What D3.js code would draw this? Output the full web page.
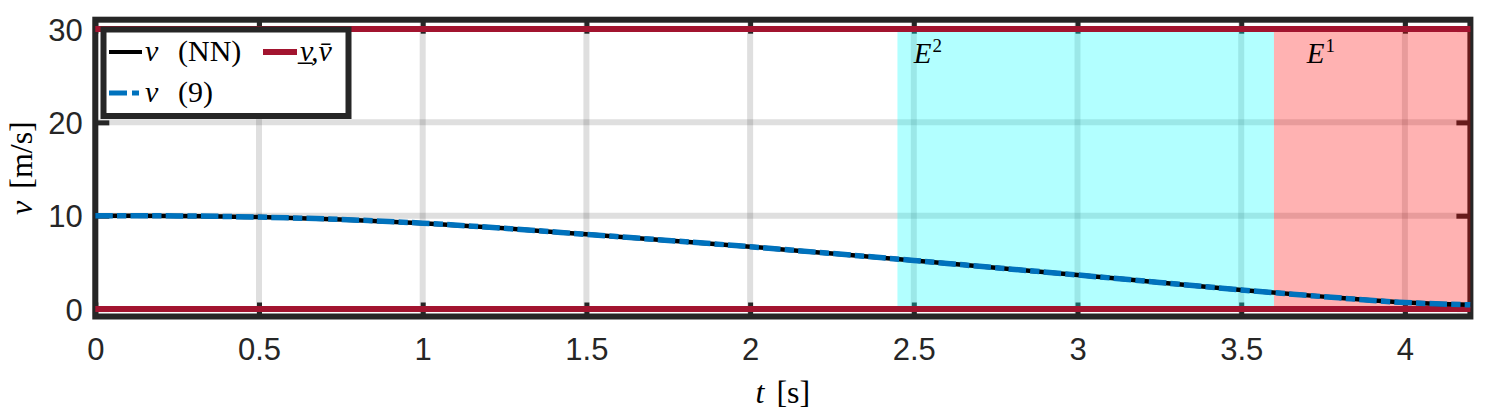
<!DOCTYPE html>
<html><head><meta charset="utf-8">
<script src="https://cdn.jsdelivr.net/npm/d3@7"></script>
<style>body{margin:0;background:#fff}svg{display:block}</style>
</head><body>
<svg id="chart" width="1495" height="414"></svg>
<script>
// ---- data ----
const tValues = [0, 0.25, 0.5, 0.75, 1.0, 1.25, 1.5, 1.75, 2.0, 2.25, 2.5, 2.75, 3.0, 3.25, 3.5, 3.75, 4.0, 4.2];
const vNN     = [10.0, 9.98, 9.85, 9.6, 9.2, 8.65, 8.0, 7.35, 6.68, 5.95, 5.2, 4.42, 3.65, 2.85, 2.05, 1.33, 0.7, 0.45];
const v9      = [10.0, 9.98, 9.85, 9.6, 9.2, 8.65, 8.0, 7.35, 6.68, 5.95, 5.2, 4.42, 3.65, 2.85, 2.05, 1.33, 0.7, 0.45];
const vLower = 0;
const vUpper = 30;
const regionNames = ["E", "E"];
const regionSup   = ["2", "1"];
const regionStart = [2.45, 3.6];
const regionEnd   = [3.6, 4.2];
const regionColor = ["#00ffff", "#ff0000"];
const regionLabelT = [2.5, 3.7];
const regionLabelV = [26.4, 26.4];
const xTicks = [0, 0.5, 1, 1.5, 2, 2.5, 3, 3.5, 4];
const xTickLabels = ["0", "0.5", "1", "1.5", "2", "2.5", "3", "3.5", "4"];
const yTicks = [0, 10, 20, 30];
const yTickLabels = ["0", "10", "20", "30"];

// ---- setup ----
const svg = d3.select("#chart");
const x = d3.scaleLinear().domain([0, 4.2]).range([95.3, 1470.4]);
const y = d3.scaleLinear().domain([-0.8, 31]).range([316.5, 19.7]);
const [x0, x1] = x.range();
const [yb, yt] = y.range();
const dark = "#262626";
const gridCol = "rgba(38,38,38,0.15)";
const sansFont = "'Liberation Sans', Arial, Helvetica, sans-serif";
const serifFont = "'Liberation Serif', 'Times New Roman', serif";

// grid
const grid = svg.append("g");
grid.selectAll(".gx").data(xTicks).join("line")
  .attr("x1", d => x(d)).attr("x2", d => x(d)).attr("y1", yt).attr("y2", yb)
  .attr("stroke", gridCol).attr("stroke-width", 6);
grid.selectAll(".gy").data(yTicks).join("line")
  .attr("x1", x0).attr("x2", x1).attr("y1", d => y(d)).attr("y2", d => y(d))
  .attr("stroke", gridCol).attr("stroke-width", 6);

// frame
svg.append("rect").attr("x", x0).attr("y", yt).attr("width", x1 - x0).attr("height", yb - yt)
  .attr("fill", "none").attr("stroke", dark).attr("stroke-width", 6);

// axes (ticks inward)
function styleAxis(g) {
  g.select(".domain").remove();
  g.selectAll(".tick line").attr("stroke", dark).attr("stroke-width", 5);
  g.selectAll(".tick text").attr("fill", dark).attr("font-family", sansFont).attr("font-size", 31);
}
const gBottom = svg.append("g").attr("transform", `translate(0,${yb})`)
  .call(d3.axisBottom(x).tickValues(xTicks).tickFormat((d, i) => xTickLabels[i]).tickSize(-14))
  .call(styleAxis);
gBottom.selectAll(".tick text").attr("y", 43.5).attr("dy", null);
svg.append("g").attr("transform", `translate(0,${yt})`)
  .call(d3.axisTop(x).tickValues(xTicks).tickFormat("").tickSize(-14)).call(styleAxis);
const gLeft = svg.append("g").attr("transform", `translate(${x0},0)`)
  .call(d3.axisLeft(y).tickValues(yTicks).tickFormat((d, i) => yTickLabels[i]).tickSize(-14))
  .call(styleAxis);
gLeft.selectAll(".tick text").attr("x", -12.5).attr("dy", 11);
svg.append("g").attr("transform", `translate(${x1},0)`)
  .call(d3.axisRight(y).tickValues(yTicks).tickFormat("").tickSize(-14)).call(styleAxis);

// shaded regions
svg.append("g").selectAll("rect").data(regionStart).join("rect")
  .attr("x", (d) => x(d)).attr("width", (d, i) => x(regionEnd[i]) - x(d))
  .attr("y", y(vUpper)).attr("height", y(vLower) - y(vUpper))
  .attr("fill", (d, i) => regionColor[i]).attr("fill-opacity", 0.3);

// bounds
const boundCol = "#a2142f";
svg.append("g").selectAll("line").data([vLower, vUpper]).join("line")
  .attr("x1", x(0)).attr("x2", x(4.2)).attr("y1", d => y(d)).attr("y2", d => y(d))
  .attr("stroke", boundCol).attr("stroke-width", 6);

// curves
const line = d3.line().x(d => x(d[0])).y(d => y(d[1])).curve(d3.curveMonotoneX);
svg.append("path").datum(tValues.map((t, i) => [t, vNN[i]]))
  .attr("d", line).attr("fill", "none").attr("stroke", "#000").attr("stroke-width", 4.5);
svg.append("path").datum(tValues.map((t, i) => [t, v9[i]]))
  .attr("d", line).attr("fill", "none").attr("stroke", "#0072bd").attr("stroke-width", 5.5)
  .attr("stroke-dasharray", "17.5,4.2,9.3,4.2");

// region labels
regionNames.forEach((n, i) => {
  const t = svg.append("text").attr("x", x(regionLabelT[i])).attr("y", y(regionLabelV[i]))
    .attr("font-family", serifFont).attr("font-size", 29).attr("fill", "#000");
  t.append("tspan").attr("font-style", "italic").text(n);
  t.append("tspan").attr("font-size", 19).attr("dy", -11).attr("dx", 1).text(regionSup[i]);
});

// legend
const lg = svg.append("g");
lg.append("rect").attr("x", 103.5).attr("y", 29.5).attr("width", 245).attr("height", 86.5)
  .attr("fill", "#fff").attr("stroke", dark).attr("stroke-width", 6);
lg.append("line").attr("x1", 109).attr("x2", 142).attr("y1", 52).attr("y2", 52)
  .attr("stroke", "#000").attr("stroke-width", 4);
lg.append("line").attr("x1", 263).attr("x2", 297).attr("y1", 52).attr("y2", 52)
  .attr("stroke", boundCol).attr("stroke-width", 6);
lg.append("line").attr("x1", 109).attr("x2", 139).attr("y1", 93).attr("y2", 93)
  .attr("stroke", "#0072bd").attr("stroke-width", 5).attr("stroke-dasharray", "18,5,10,5");
function legText(xv, yv, it, rest, restX) {
  lg.append("text").attr("x", xv).attr("y", yv).attr("font-family", serifFont).attr("font-size", 30)
    .attr("font-style", "italic").text(it);
  lg.append("text").attr("x", restX).attr("y", yv).attr("font-family", serifFont).attr("font-size", 30)
    .text(rest);
}
legText(145, 61, "v", "(NN)", 178);
legText(145, 102, "v", "(9)", 178);
lg.append("text").attr("x", 300).attr("y", 61).attr("font-family", serifFont).attr("font-size", 30)
  .attr("font-style", "italic").text("v\u0332,v\u0304");

// axis labels
const xl = svg.append("text").attr("x", (x0 + x1) / 2).attr("y", 403).attr("text-anchor", "middle")
  .attr("font-family", serifFont).attr("font-size", 32).attr("fill", "#000");
xl.append("tspan").attr("font-style", "italic").text("t");
xl.append("tspan").attr("dx", 12).text("[s]");
const yl = svg.append("text").attr("transform", `translate(32,${(yt + yb) / 2}) rotate(-90)`)
  .attr("text-anchor", "middle").attr("font-family", serifFont).attr("font-size", 32).attr("fill", "#000");
yl.append("tspan").attr("font-style", "italic").text("v");
yl.append("tspan").attr("dx", 12).text("[m/s]");
</script>
</body></html>
